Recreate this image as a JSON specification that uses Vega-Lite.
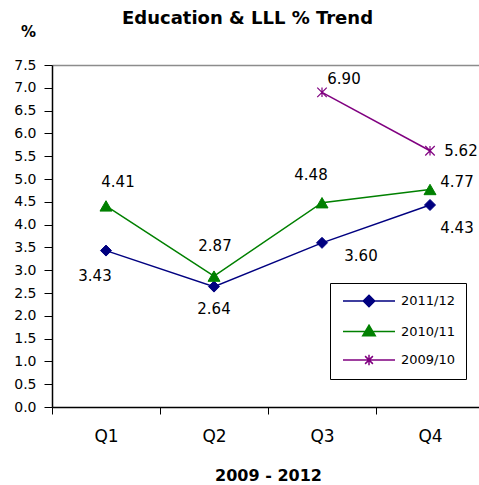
{
  "$schema": "https://vega.github.io/schema/vega-lite/v6.json",
  "autosize": {"type": "none"},
  "width": 427,
  "height": 342,
  "padding": {"top": 65, "left": 52, "right": 0, "bottom": 78},
  "background": "white",
  "title": {"text": "Education & LLL % Trend", "font": "DejaVu Sans", "fontSize": 18, "fontWeight": "bold", "anchor": "middle", "dx": -18, "dy": 4, "offset": 0, "color": "black"},
  "config": {
    "view": {"stroke": null},
    "axis": {"labelFont": "DejaVu Sans", "labelColor": "black", "domainColor": "black", "tickColor": "black", "titleColor": "black", "titleFont": "DejaVu Sans"}
  },
  "data": {"values": [
    {"Quarter": "Q1", "Series": "2011/12", "Value": 3.43},
    {"Quarter": "Q2", "Series": "2011/12", "Value": 2.64},
    {"Quarter": "Q3", "Series": "2011/12", "Value": 3.60},
    {"Quarter": "Q4", "Series": "2011/12", "Value": 4.43},
    {"Quarter": "Q1", "Series": "2010/11", "Value": 4.41},
    {"Quarter": "Q2", "Series": "2010/11", "Value": 2.87},
    {"Quarter": "Q3", "Series": "2010/11", "Value": 4.48},
    {"Quarter": "Q4", "Series": "2010/11", "Value": 4.77},
    {"Quarter": "Q3", "Series": "2009/10", "Value": 6.90},
    {"Quarter": "Q4", "Series": "2009/10", "Value": 5.62}
  ]},
  "encoding": {
    "x": {"field": "Quarter", "type": "nominal", "sort": ["Q1", "Q2", "Q3", "Q4"],
      "scale": {"range": [0, 432], "paddingInner": 0, "paddingOuter": 0},
      "axis": {"title": "2009 - 2012", "titleFontSize": 16, "titleFontWeight": "bold", "titleY": 68, "titleBaseline": "middle", "labelAngle": 0, "labelFontSize": 17, "labelPadding": 14, "tickSize": 7, "tickBand": "extent", "domainWidth": 1.5, "grid": false}},
    "y": {"field": "Value", "type": "quantitative",
      "scale": {"domain": [0, 7.5], "nice": false, "zero": true},
      "axis": {"title": "%", "titleAngle": 0, "titleX": -24, "titleY": -34, "titleAlign": "center", "titleBaseline": "middle", "titleFontSize": 15, "titleFontWeight": "bold",
        "values": [0, 0.5, 1, 1.5, 2, 2.5, 3, 3.5, 4, 4.5, 5, 5.5, 6, 6.5, 7, 7.5], "format": ".1f",
        "labelFontSize": 14, "labelPadding": 8, "tickSize": 8, "domainWidth": 1.5,
        "grid": true, "gridColor": "#8c8c8c", "gridWidth": 1.5,
        "gridOpacity": {"condition": {"test": "datum.value === 7.5", "value": 1}, "value": 0}}}
  },
  "layer": [
    {
      "mark": {"type": "line", "strokeWidth": 1.5},
      "encoding": {
        "color": {"field": "Series", "type": "nominal",
          "scale": {"domain": ["2011/12", "2010/11", "2009/10"], "range": ["#000080", "#008000", "#800080"]},
          "legend": {"orient": "none", "legendX": 278, "legendY": 218, "title": null,
            "strokeColor": "black", "fillColor": "white", "padding": 10,
            "symbolSize": 100, "symbolStrokeWidth": 1.5, "symbolOffset": 2, "labelOffset": 5,
            "labelFont": "DejaVu Sans", "labelFontSize": 13, "labelColor": "black", "rowPadding": 11.5,
            "encode": {
              "symbols": {"update": {
                "shape": {"signal": "datum.value === '2011/12' ? 'M-1,0H1M0,-0.22L0.22,0L0,0.22L-0.22,0Z' : datum.value === '2010/11' ? 'M-1,0H1M0,-0.24L0.24,0.16L-0.24,0.16Z' : 'M-1,0H1M-0.15,-0.15L0.15,0.15M-0.15,0.15L0.15,-0.15M0,-0.2V0.2'"},
                "size": {"value": 2704},
                "y": {"value": 8},
                "fill": {"signal": "datum.value === '2011/12' ? '#000080' : datum.value === '2010/11' ? '#008000' : '#800080'"},
                "stroke": {"signal": "datum.value === '2011/12' ? '#000080' : datum.value === '2010/11' ? '#008000' : '#800080'"},
                "strokeWidth": {"value": 1.5}
              }},
              "labels": {"update": {"y": {"value": 8}, "baseline": {"value": "middle"}}}
            }}}
      }
    },
    {"transform": [{"filter": "datum.Series === '2011/12'"}],
     "mark": {"type": "point", "shape": "diamond", "size": 121, "filled": true, "opacity": 1, "fill": "#000080", "stroke": "#000080", "strokeWidth": 1}},
    {"transform": [{"filter": "datum.Series === '2010/11'"}],
     "mark": {"type": "point", "shape": "triangle-up", "size": 144, "filled": true, "opacity": 1, "fill": "#008000", "stroke": "#008000", "strokeWidth": 1}},
    {"transform": [{"filter": "datum.Series === '2009/10'"}],
     "mark": {"type": "point", "shape": "M-1,-1L1,1M-1,1L1,-1M0,-1V1", "size": 90, "filled": false, "opacity": 1, "stroke": "#800080", "strokeWidth": 1.2}},
    {"transform": [{"filter": "datum.Series === '2011/12' && datum.Quarter === 'Q1'"}],
     "mark": {"type": "text", "font": "DejaVu Sans", "fontSize": 15, "color": "black", "dx": -11, "dy": 25},
     "encoding": {"text": {"field": "Value", "type": "quantitative", "format": ".2f"}}},
    {"transform": [{"filter": "datum.Series === '2011/12' && datum.Quarter === 'Q2'"}],
     "mark": {"type": "text", "font": "DejaVu Sans", "fontSize": 15, "color": "black", "dx": 0, "dy": 22},
     "encoding": {"text": {"field": "Value", "type": "quantitative", "format": ".2f"}}},
    {"transform": [{"filter": "datum.Series === '2011/12' && datum.Quarter === 'Q3'"}],
     "mark": {"type": "text", "font": "DejaVu Sans", "fontSize": 15, "color": "black", "dx": 39, "dy": 13},
     "encoding": {"text": {"field": "Value", "type": "quantitative", "format": ".2f"}}},
    {"transform": [{"filter": "datum.Series === '2011/12' && datum.Quarter === 'Q4'"}],
     "mark": {"type": "text", "font": "DejaVu Sans", "fontSize": 15, "color": "black", "dx": 27, "dy": 23},
     "encoding": {"text": {"field": "Value", "type": "quantitative", "format": ".2f"}}},
    {"transform": [{"filter": "datum.Series === '2010/11' && datum.Quarter === 'Q1'"}],
     "mark": {"type": "text", "font": "DejaVu Sans", "fontSize": 15, "color": "black", "dx": 12, "dy": -24},
     "encoding": {"text": {"field": "Value", "type": "quantitative", "format": ".2f"}}},
    {"transform": [{"filter": "datum.Series === '2010/11' && datum.Quarter === 'Q2'"}],
     "mark": {"type": "text", "font": "DejaVu Sans", "fontSize": 15, "color": "black", "dx": 1, "dy": -30},
     "encoding": {"text": {"field": "Value", "type": "quantitative", "format": ".2f"}}},
    {"transform": [{"filter": "datum.Series === '2010/11' && datum.Quarter === 'Q3'"}],
     "mark": {"type": "text", "font": "DejaVu Sans", "fontSize": 15, "color": "black", "dx": -11, "dy": -28},
     "encoding": {"text": {"field": "Value", "type": "quantitative", "format": ".2f"}}},
    {"transform": [{"filter": "datum.Series === '2010/11' && datum.Quarter === 'Q4'"}],
     "mark": {"type": "text", "font": "DejaVu Sans", "fontSize": 15, "color": "black", "dx": 27, "dy": -7},
     "encoding": {"text": {"field": "Value", "type": "quantitative", "format": ".2f"}}},
    {"transform": [{"filter": "datum.Series === '2009/10' && datum.Quarter === 'Q3'"}],
     "mark": {"type": "text", "font": "DejaVu Sans", "fontSize": 15, "color": "black", "dx": 22, "dy": -13},
     "encoding": {"text": {"field": "Value", "type": "quantitative", "format": ".2f"}}},
    {"transform": [{"filter": "datum.Series === '2009/10' && datum.Quarter === 'Q4'"}],
     "mark": {"type": "text", "font": "DejaVu Sans", "fontSize": 15, "color": "black", "dx": 31, "dy": 0},
     "encoding": {"text": {"field": "Value", "type": "quantitative", "format": ".2f"}}}
  ]
}
